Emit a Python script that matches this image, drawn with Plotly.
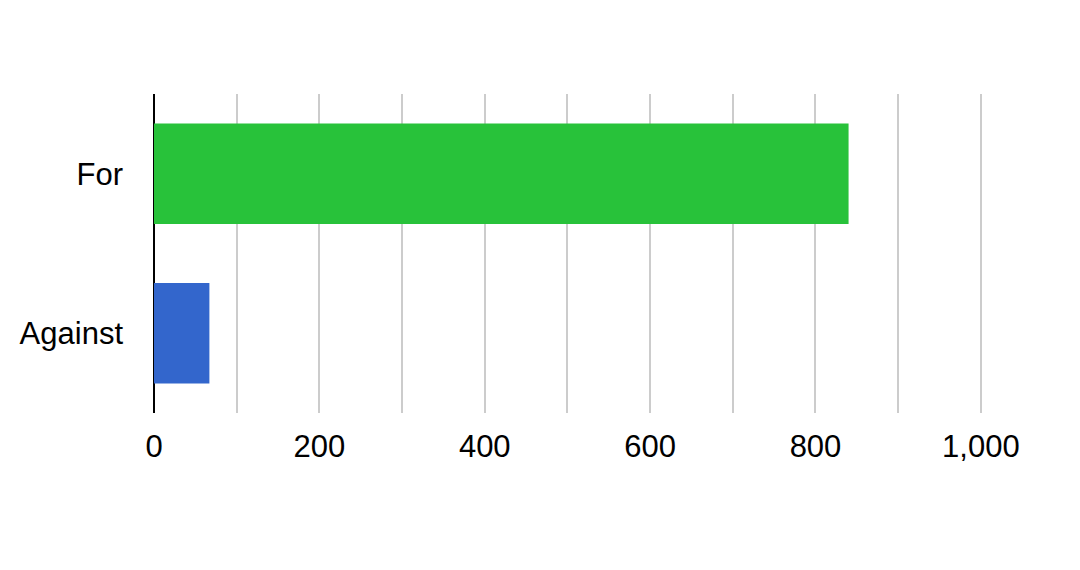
import plotly.graph_objects as go

categories = ["Against", "For"]
values = [67, 840]
colors = ["#3366cc", "#28c23a"]
x_ticks = [0, 200, 400, 600, 800, 1000]
x_tick_labels = ["0", "200", "400", "600", "800", "1,000"]

fig = go.Figure(go.Bar(
    y=categories, x=values, orientation="h",
    marker=dict(color=colors, line=dict(width=0)),
    width=0.63,
))

fig.update_layout(
    width=1064, height=554,
    margin=dict(l=146, r=87, t=86, b=149),
    paper_bgcolor="white", plot_bgcolor="white",
    font=dict(family="Liberation Sans, Arial, sans-serif", size=31, color="#000000"),
    showlegend=False,
    xaxis=dict(
        range=[0, 1005], tickvals=x_ticks, ticktext=x_tick_labels,
        showgrid=True, gridcolor="#cccccc", gridwidth=1.5,
        zeroline=True, zerolinecolor="#000000", zerolinewidth=2,
        ticks="", ticklabelstandoff=12,
    ),
    yaxis=dict(
        range=[-0.5, 1.5], categoryorder="array", categoryarray=categories,
        showgrid=False, ticks="", ticklabelstandoff=30,
        showline=False,
    ),
)
fig.update_xaxes(minor=dict(dtick=100, tick0=0, showgrid=True, gridcolor="#cccccc", gridwidth=1.5))

fig.write_html("out.html")
